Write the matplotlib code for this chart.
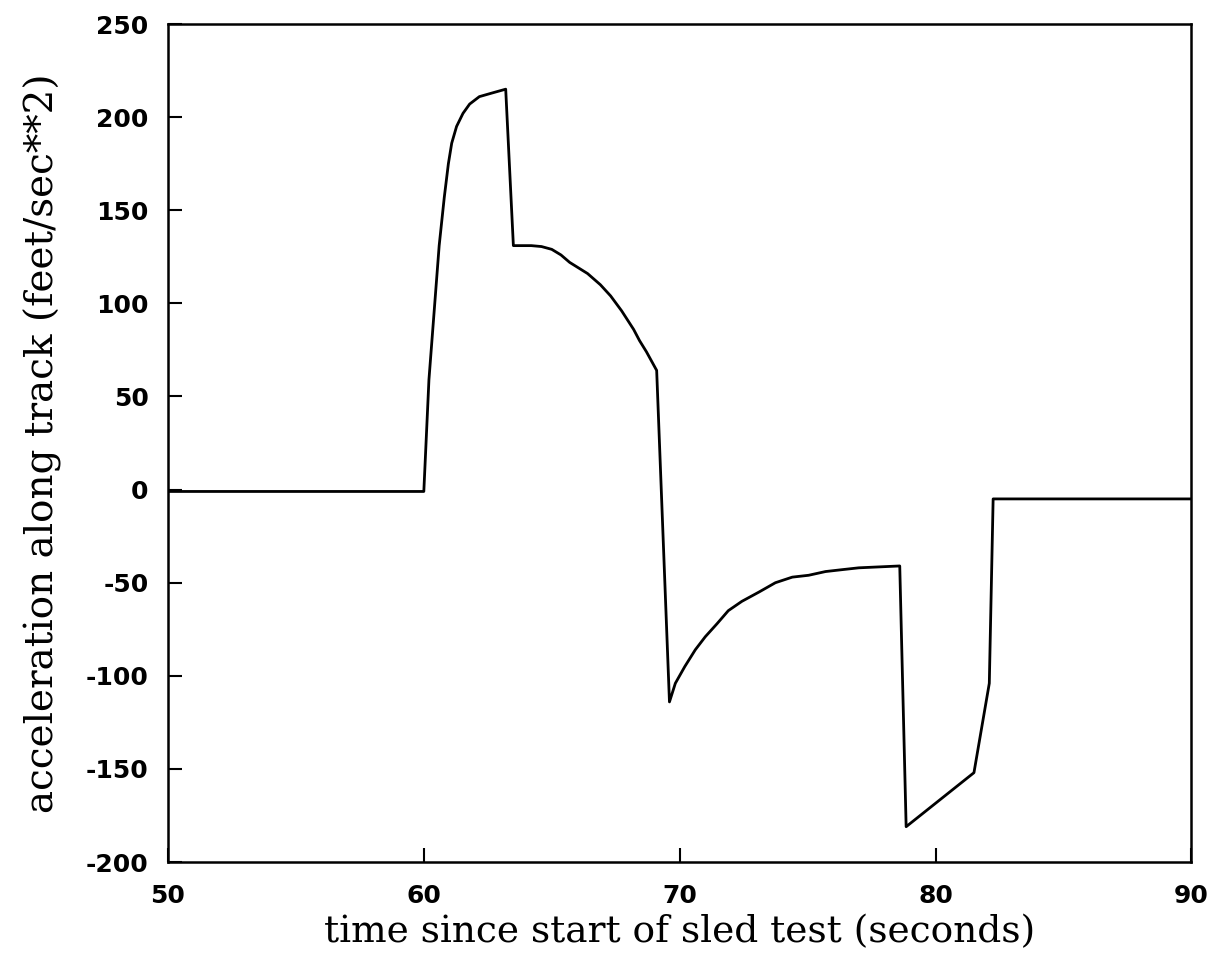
import matplotlib
matplotlib.use("Agg")
import matplotlib.pyplot as plt

plt.rcParams['axes.unicode_minus'] = False

# sled test acceleration trace
time_s = [50.0, 60.0, 60.2, 60.4, 60.6, 60.8, 60.96, 61.09, 61.28, 61.53,
          61.79, 62.17, 62.68, 63.2,
          63.5, 64.2, 64.6, 65.0, 65.36, 65.7, 66.4, 66.9, 67.3, 67.73,
          68.2, 68.43, 68.7, 69.1,
          69.6, 69.83, 70.2, 70.61, 71.0, 71.46, 71.9, 72.43, 73.1, 73.74,
          74.4, 75.04, 75.7, 76.34, 77.0, 78.6,
          78.85, 81.5, 82.1, 82.25, 90.0]
accel = [-1, -1, 59, 95, 131, 157, 175, 186, 195, 202,
         207, 211, 213, 215,
         131, 131, 130.5, 129, 126, 122, 116, 110, 104, 96,
         86, 80, 74, 64,
         -114, -104, -95, -86, -79, -72, -65, -60, -55, -50,
         -47, -46, -44, -43, -42, -41,
         -181, -152, -104, -5, -5]

xticks = [50, 60, 70, 80, 90]
yticks = [-200, -150, -100, -50, 0, 50, 100, 150, 200, 250]

fig = plt.figure(figsize=(12.17, 9.6), dpi=100)
ax = fig.add_axes([0.138, 0.102, 0.841, 0.873])

ax.plot(time_s, accel, color='black', linewidth=2.0)

ax.set_xlim(50, 90)
ax.set_ylim(-200, 250)
ax.set_xticks(xticks)
ax.set_yticks(yticks)

for s in ax.spines.values():
    s.set_linewidth(1.8)

ax.tick_params(axis='both', direction='in', length=10, width=1.5,
               labelsize=18)
ax.tick_params(axis='y', pad=14)
ax.tick_params(axis='x', pad=16)
for lab in ax.get_xticklabels() + ax.get_yticklabels():
    lab.set_family('DejaVu Sans')
    lab.set_fontweight('bold')

ax.set_xlabel('time since start of sled test (seconds)', family='DejaVu Serif',
              fontsize=27, labelpad=4)
ax.set_ylabel('acceleration along track (feet/sec**2)', family='DejaVu Serif',
              fontsize=28, labelpad=17)

fig.savefig('out.png', dpi=100)
